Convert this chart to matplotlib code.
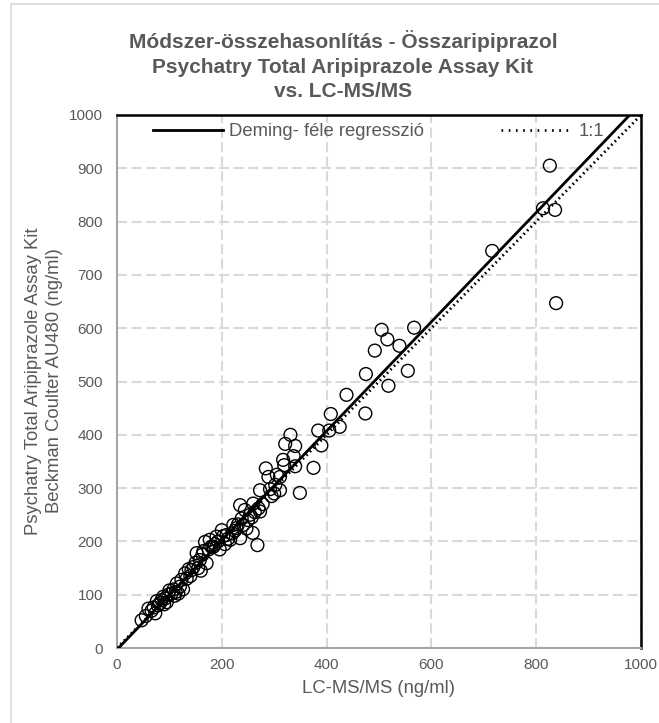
import matplotlib.pyplot as plt
from matplotlib.patches import Rectangle
from matplotlib.lines import Line2D

plt.rcParams['font.family'] = ['Liberation Sans', 'DejaVu Sans']

# LC-MS/MS (x) vs Beckman Coulter AU480 (y), ng/ml
lcms = [47, 55, 60, 66, 70, 73, 76, 78, 82, 85, 88, 90, 92, 95, 98, 100, 104, 108,
        110, 112, 114, 117, 120, 123, 126, 130, 133, 137, 140, 142, 146, 150, 152,
        155, 158, 160, 163, 165, 168, 171, 175, 177, 180, 184, 187, 190, 193, 196,
        200, 203, 206, 209, 212, 216, 220, 222, 225, 228, 231, 235, 235, 238, 241,
        244, 247, 250, 254, 257, 259, 260, 263, 268, 270, 273, 273, 278, 284, 289,
        292, 295, 300, 302, 305, 311, 311, 317, 319, 321, 331, 337, 340, 340, 349,
        375, 384, 390, 405, 408, 425, 438, 474, 475, 492, 505, 516, 518, 539, 555,
        567, 716, 813, 836, 826, 838]
au480 = [52, 60, 74, 70, 76, 65, 88, 80, 84, 90, 96, 82, 93, 86, 100, 108, 102, 110,
         98, 105, 121, 102, 115, 128, 110, 140, 130, 148, 135, 146, 152, 160, 178,
         150, 165, 145, 175, 182, 199, 159, 185, 203, 190, 190, 195, 209, 200, 185,
         221, 210, 195, 212, 205, 203, 215, 231, 220, 225, 232, 206, 268, 243, 231,
         259, 224, 240, 250, 245, 216, 271, 255, 193, 262, 256, 296, 270, 337, 321,
         298, 285, 290, 306, 325, 296, 321, 353, 343, 383, 400, 360, 379, 341, 291,
         338, 408, 380, 408, 439, 415, 475, 440, 514, 558, 597, 579, 492, 567, 520,
         601, 745, 825, 822, 905, 647]

# Deming regression: y = slope * x + intercept
deming_slope = 1.025
deming_intercept = -3.0

title = ("Módszer-összehasonlítás - Összaripiprazol\n"
         "Psychatry Total Aripiprazole Assay Kit\n"
         "vs. LC-MS/MS")
ylabel = "Psychatry Total Aripiprazole Assay Kit\nBeckman Coulter AU480 (ng/ml)"
gray = '#595959'
dotted = (0, (0.6, 1.2))

W, H = 659, 723
fig = plt.figure(figsize=(W / 100, H / 100), dpi=100)
ax = fig.add_axes([117 / W, 1 - 648 / H, 524 / W, 533 / H])

# light frame around the chart area
fig.patches.append(Rectangle((11 / W, -0.05), 1.2, 1 - 4 / H + 0.05,
                             transform=fig.transFigure, fill=False,
                             edgecolor='#d9d9d9', linewidth=1.2))

ax.scatter(lcms, au480, s=85, facecolors='none', edgecolors='black',
           linewidths=1.0, zorder=3)
xs = [0, 1000]
ax.plot(xs, [deming_slope * v + deming_intercept for v in xs], color='black',
        lw=2.0, zorder=4)
ax.plot(xs, xs, color='black', lw=2.0, ls=dotted, zorder=4)

ax.set_xlim(0, 1000)
ax.set_ylim(0, 1000)
ax.set_xticks(range(0, 1001, 200))
ax.set_yticks(range(0, 1001, 100))
ax.grid(True, color='#d9d9d9', lw=1.5, ls=(0, (4.8, 2.2)))
ax.set_axisbelow(True)
ax.tick_params(length=0, labelsize=11, labelcolor=gray)
ax.tick_params(axis='x', pad=7)
ax.tick_params(axis='y', pad=10)

for side in ['left', 'bottom']:
    ax.spines[side].set_color('#a6a6a6')
    ax.spines[side].set_linewidth(1.5)
for side in ['top', 'right']:
    ax.spines[side].set_color('black')
    ax.spines[side].set_linewidth(1.8)

ax.set_xlabel('LC-MS/MS (ng/ml)', fontsize=13.3, color=gray, labelpad=6)
fig.text(44 / W, 1 - 381 / H, ylabel, rotation=90, ha='center', va='center',
         fontsize=13.3, color=gray, linespacing=1.3)

# two legend entries placed separately along the top of the plot
leg_y = 1 - 132 / H
leg1 = ax.legend([Line2D([], [], color='black', lw=2.0)],
                 ['Deming- féle regresszió'], loc='center left',
                 bbox_to_anchor=(153 / W, leg_y), bbox_transform=fig.transFigure,
                 frameon=False, borderpad=0, borderaxespad=0, handlelength=3.8,
                 handletextpad=0.3, fontsize=13.3, labelcolor=gray)
ax.add_artist(leg1)
ax.legend([Line2D([], [], color='black', lw=2.0, ls=(0, (0.6, 2.0)))],
          ['1:1'], loc='center left',
          bbox_to_anchor=(501 / W, leg_y), bbox_transform=fig.transFigure,
          frameon=False, borderpad=0, borderaxespad=0, handlelength=3.6,
          handletextpad=0.6, fontsize=13.3, labelcolor=gray)

fig.text(343 / W, 1 - 30 / H, title, ha='center', va='top', fontsize=15,
         fontweight='bold', color=gray, linespacing=1.38)

fig.savefig('out.png', dpi=100)
